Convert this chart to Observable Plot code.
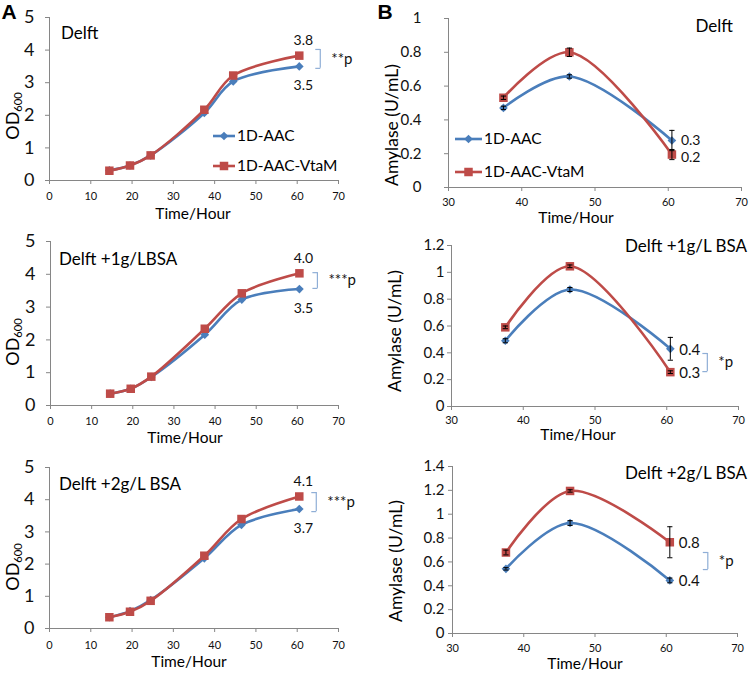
<!DOCTYPE html>
<html><head><meta charset="utf-8">
<script src="https://cdn.jsdelivr.net/npm/d3@7"></script>
<script src="https://cdn.jsdelivr.net/npm/@observablehq/plot@0.6"></script>
<style>
body{margin:0;background:#fff;font-family:Lato,sans-serif;}
#root{position:relative;width:750px;height:675px;overflow:hidden;background:#fff;}
.panel{position:absolute;}
.panel svg{overflow:visible;}
.t{position:absolute;white-space:nowrap;color:#000;line-height:1;font-family:Lato,sans-serif;}
.t sub{font-size:0.62em;vertical-align:-0.25em;line-height:0;}
</style></head><body><div id="root"></div>
<script>
// ---------- data ----------
const seriesNames = ["1D-AAC", "1D-AAC-VtaM"];

const hoursA1 = [14.5, 19.5, 24.5, 37.5, 44.5, 60.5];
const hoursA = [14.5, 19.5, 24.5, 37.5, 46.5, 60.5];
const hoursB = [37.5, 46.5, 60.5];

const odDelftAAC  = [0.31, 0.46, 0.77, 2.07, 3.04, 3.50];
const odDelftVtaM = [0.30, 0.46, 0.77, 2.17, 3.22, 3.83];
const odBSA1AAC   = [0.36, 0.51, 0.87, 2.16, 3.23, 3.55];
const odBSA1VtaM  = [0.36, 0.51, 0.88, 2.34, 3.42, 4.03];
const odBSA2AAC   = [0.35, 0.54, 0.88, 2.18, 3.22, 3.71];
const odBSA2VtaM  = [0.35, 0.52, 0.86, 2.26, 3.40, 4.10];

const amyDelftAAC  = [0.471, 0.657, 0.278];
const amyDelftVtaM = [0.531, 0.800, 0.195];
const amyBSA1AAC   = [0.490, 0.872, 0.430];
const amyBSA1VtaM  = [0.590, 1.045, 0.256];
const amyBSA2AAC   = [0.542, 0.926, 0.445];
const amyBSA2VtaM  = [0.679, 1.195, 0.765];

const errDelftAAC  = [0.01, 0.01, 0.06];
const errDelftVtaM = [0.01, 0.025, 0.03];
const errBSA1AAC   = [0.015, 0.015, 0.085];
const errBSA1VtaM  = [0.01, 0.01, 0.01];
const errBSA2AAC   = [0.01, 0.02, 0.02];
const errBSA2VtaM  = [0.02, 0.01, 0.13];

const ticksHourA = [0, 10, 20, 30, 40, 50, 60, 70];
const ticksHourB = [30, 40, 50, 60, 70];
const ticksOD = [0, 1, 2, 3, 4, 5];
const ticksAmy1 = [0, 0.2, 0.4, 0.6, 0.8, 1];
const ticksAmy2 = [0, 0.2, 0.4, 0.6, 0.8, 1, 1.2];
const ticksAmy3 = [0, 0.2, 0.4, 0.6, 0.8, 1, 1.2, 1.4];

const panelTitles = ["Delft", "Delft +1g/LBSA", "Delft +2g/L BSA", "Delft", "Delft +1g/L BSA", "Delft +2g/L BSA"];
const pLabels = ["**p", "***p", "***p", null, "*p", "*p"];
// bracket ends (value units)
const bracketEnds = [[4.02, 3.44], [4.05, 3.57], [4.22, 3.63], null, [0.395, 0.26], [0.679, 0.536]];

// ---------- style ----------
const BLUE = "#4A7EBB", RED = "#BE4B48", AXIS = "#868686", BRACKET = "#8FAED6";
const FONT = "Lato, sans-serif";
const fmt = d3.format("~g");
const root = document.getElementById("root");

const CAP = {draw(ctx) { ctx.moveTo(-2.6, 0); ctx.lineTo(2.6, 0); }};
const LEFTCAP = {draw(ctx) { ctx.moveTo(-5, 0); ctx.lineTo(0, 0); }};

const panels = [
  {left: 0, top: 0, m: [17, 37, 45, 49], hours: hoursA1, series: [odDelftAAC, odDelftVtaM], xDomain: [0, 70], xTicks: ticksHourA, yDomain: [0, 5], yTicks: ticksOD, yFont: 18, yPad: 11, xPad: 8, kind: "A", bdx: 21, valFont: 14},
  {left: 0, top: 225, m: [16, 37, 45, 50], hours: hoursA, series: [odBSA1AAC, odBSA1VtaM], xDomain: [0, 70], xTicks: ticksHourA, yDomain: [0, 5], yTicks: ticksOD, yFont: 18, yPad: 11, xPad: 8, kind: "A", bdx: 18, valFont: 14},
  {left: 0, top: 450, m: [17, 37, 47, 49], hours: hoursA, series: [odBSA2AAC, odBSA2VtaM], xDomain: [0, 70], xTicks: ticksHourA, yDomain: [0, 5], yTicks: ticksOD, yFont: 18, yPad: 11, xPad: 9, kind: "A", bdx: 17, valFont: 14},
  {left: 375, top: 0, m: [18, 9, 38, 73], hours: hoursB, series: [amyDelftAAC, amyDelftVtaM], errs: [errDelftAAC, errDelftVtaM], xDomain: [30, 70], xTicks: ticksHourB, yDomain: [0, 1], yTicks: ticksAmy1, yFont: 15, yPad: 23, xPad: 7, kind: "B", valFont: 14, dyUp: 0, dyLo: 3},
  {left: 375, top: 225, m: [20, 12, 44, 76], hours: hoursB, series: [amyBSA1AAC, amyBSA1VtaM], errs: [errBSA1AAC, errBSA1VtaM], xDomain: [30, 70], xTicks: ticksHourB, yDomain: [0, 1.2], yTicks: ticksAmy2, yFont: 15, yPad: 3, xPad: 6, kind: "B", bdx: 37, valFont: 15, dyUp: 1, dyLo: 1},
  {left: 375, top: 450, m: [16, 13, 42, 77], hours: hoursB, series: [amyBSA2AAC, amyBSA2VtaM], errs: [errBSA2AAC, errBSA2VtaM], xDomain: [30, 70], xTicks: ticksHourB, yDomain: [0, 1.4], yTicks: ticksAmy3, yFont: 15, yPad: 4, xPad: 7, kind: "B", bdx: 38, valFont: 15, dyUp: 1, dyLo: 1}
];

function makePanel(cfg, idx) {
  const rows = [];
  cfg.series.forEach((vals, si) => vals.forEach((v, i) =>
    rows.push({series: seriesNames[si], x: cfg.hours[i], y: v, e: cfg.errs ? cfg.errs[si][i] : 0})));
  const aac = rows.filter(d => d.series === seriesNames[0]);
  const vtam = rows.filter(d => d.series === seriesNames[1]);
  const lastA = aac[aac.length - 1], lastV = vtam[vtam.length - 1];
  const upper = lastA.y > lastV.y ? lastA : lastV;
  const lower = upper === lastA ? lastV : lastA;

  const marks = [
    Plot.ruleX([cfg.xDomain[0]], {stroke: AXIS, strokeWidth: 1}),
    Plot.ruleY([cfg.yDomain[0]], {stroke: AXIS, strokeWidth: 1}),
    Plot.axisX({ticks: cfg.xTicks, tickSize: 4, tickPadding: cfg.xPad, fontSize: 11, stroke: AXIS, fill: "#111", tickFormat: fmt, label: null}),
    Plot.axisY({ticks: cfg.yTicks, tickSize: 4, tickPadding: cfg.yPad, fontSize: cfg.yFont, stroke: AXIS, fill: "#111", tickFormat: fmt, label: null}),
    Plot.line(aac, {x: "x", y: "y", stroke: BLUE, strokeWidth: 2.6, curve: "catmull-rom"}),
    Plot.line(vtam, {x: "x", y: "y", stroke: RED, strokeWidth: 2.6, curve: "catmull-rom"}),
    Plot.dot(aac, {x: "x", y: "y", symbol: "diamond2", r: 3.9, fill: BLUE, stroke: "none"}),
    Plot.dot(vtam, {x: "x", y: "y", symbol: "square", r: 4.8, fill: RED, stroke: "none"})
  ];
  if (cfg.errs) {
    marks.push(
      Plot.ruleX(rows, {x: "x", y1: d => d.y - d.e, y2: d => d.y + d.e, stroke: "#000", strokeWidth: 1}),
      Plot.dot(rows, {x: "x", y: d => d.y + d.e, symbol: CAP, fill: "none", stroke: "#000", strokeWidth: 1}),
      Plot.dot(rows, {x: "x", y: d => d.y - d.e, symbol: CAP, fill: "none", stroke: "#000", strokeWidth: 1})
    );
  }
  const f1 = d3.format(".1f");
  if (cfg.kind === "A") {
    marks.push(
      Plot.text([upper], {x: "x", y: "y", text: d => f1(d.y), dx: 4, dy: -15, fontSize: cfg.valFont, fill: "#111"}),
      Plot.text([lower], {x: "x", y: "y", text: d => f1(d.y), dx: 4, dy: 19, fontSize: cfg.valFont, fill: "#111"})
    );
  } else {
    marks.push(
      Plot.text([upper], {x: "x", y: "y", text: d => f1(d.y), dx: 9, dy: cfg.dyUp, textAnchor: "start", fontSize: cfg.valFont, fill: "#111"}),
      Plot.text([lower], {x: "x", y: "y", text: d => f1(d.y), dx: 9, dy: cfg.dyLo, textAnchor: "start", fontSize: cfg.valFont, fill: "#111"})
    );
  }
  const be = bracketEnds[idx];
  if (be) {
    const bx = lastA.x;
    const br = [{x: bx, y1: be[0], y2: be[1]}];
    marks.push(
      Plot.ruleX(br, {x: "x", y1: "y1", y2: "y2", dx: cfg.bdx, stroke: BRACKET, strokeWidth: 1.2}),
      Plot.dot([{x: bx, y: be[0]}, {x: bx, y: be[1]}], {x: "x", y: "y", dx: cfg.bdx, symbol: LEFTCAP, fill: "none", stroke: BRACKET, strokeWidth: 1.2}),
      Plot.text([{x: bx, y: (be[0] + be[1]) / 2}], {x: "x", y: "y", text: () => pLabels[idx], dx: cfg.bdx + 11, textAnchor: "start", fontSize: 15, fill: "#111"})
    );
  }
  const svg = Plot.plot({
    width: 375, height: 225,
    marginTop: cfg.m[0], marginRight: cfg.m[1], marginBottom: cfg.m[2], marginLeft: cfg.m[3],
    x: {domain: cfg.xDomain},
    y: {domain: cfg.yDomain},
    style: {fontFamily: FONT, background: "transparent", color: "#111"},
    marks
  });
  const div = document.createElement("div");
  div.className = "panel";
  div.style.left = cfg.left + "px";
  div.style.top = cfg.top + "px";
  div.appendChild(svg);
  root.appendChild(div);
}
panels.forEach(makePanel);

// ---------- text overlays ----------
function txt(str, x, y, {size = 15, anchor = "middle", rotate = false, weight = "normal", html = false, family = null} = {}) {
  const el = document.createElement("div");
  el.className = "t";
  if (html) el.innerHTML = str; else el.textContent = str;
  el.style.left = x + "px";
  el.style.top = y + "px";
  el.style.fontSize = size + "px";
  el.style.fontWeight = weight;
  if (family) el.style.fontFamily = family;
  const tx = anchor === "start" ? "0" : anchor === "end" ? "-100%" : "-50%";
  el.style.transform = `translate(${tx},-50%)` + (rotate ? " rotate(-90deg)" : "");
  root.appendChild(el);
}
txt("A", 9, 11, {size: 21, weight: "bold", family: "Liberation Sans, Arial, sans-serif"});
txt("B", 385, 11, {size: 21, weight: "bold", family: "Liberation Sans, Arial, sans-serif"});

const odTitle = "OD<sub>600</sub>";
[[12, 116], [12, 342], [12, 567]].forEach(([x, y]) => txt(odTitle, x, y, {size: 18, rotate: true, html: true}));
[[392, 125], [395, 331], [396, 561]].forEach(([x, y]) => txt("Amylase (U/mL)", x, y, {size: 17.5, rotate: true}));
[[193, 214], [185, 438], [189, 662], [576, 218], [578, 435], [585, 664]].forEach(([x, y]) => txt("Time/Hour", x, y, {size: 15.5}));

txt(panelTitles[0], 61, 32, {size: 17, anchor: "start"});
txt(panelTitles[1], 59, 258, {size: 17, anchor: "start"});
txt(panelTitles[2], 59, 483, {size: 17, anchor: "start"});
txt(panelTitles[3], 733, 25, {size: 17, anchor: "end"});
txt(panelTitles[4], 747, 245, {size: 17, anchor: "end"});
txt(panelTitles[5], 747, 472, {size: 17, anchor: "end"});

// ---------- legends ----------
const ns = "http://www.w3.org/2000/svg";
const lg = document.createElementNS(ns, "svg");
lg.setAttribute("width", 750); lg.setAttribute("height", 675);
lg.style.position = "absolute"; lg.style.left = "0"; lg.style.top = "0"; lg.style.pointerEvents = "none";
root.appendChild(lg);
function legendItem(x1, x2, y, color, sym, size, label) {
  const l = document.createElementNS(ns, "line");
  l.setAttribute("x1", x1); l.setAttribute("x2", x2); l.setAttribute("y1", y); l.setAttribute("y2", y);
  l.setAttribute("stroke", color); l.setAttribute("stroke-width", 2.6);
  lg.appendChild(l);
  const p = document.createElementNS(ns, "path");
  p.setAttribute("d", d3.symbol(sym, size)());
  p.setAttribute("transform", `translate(${(x1 + x2) / 2},${y})`);
  p.setAttribute("fill", color);
  lg.appendChild(p);
  txt(label, x2 + 2, y, {size: 15.5, anchor: "start"});
}
legendItem(213, 235, 136, BLUE, d3.symbolDiamond2, Math.PI * 3.9 * 3.9, seriesNames[0]);
legendItem(213, 235, 166, RED, d3.symbolSquare, Math.PI * 4.8 * 4.8, seriesNames[1]);
legendItem(455, 482, 139, BLUE, d3.symbolDiamond2, Math.PI * 3.9 * 3.9, seriesNames[0]);
legendItem(455, 482, 172, RED, d3.symbolSquare, Math.PI * 4.8 * 4.8, seriesNames[1]);
</script></body></html>
